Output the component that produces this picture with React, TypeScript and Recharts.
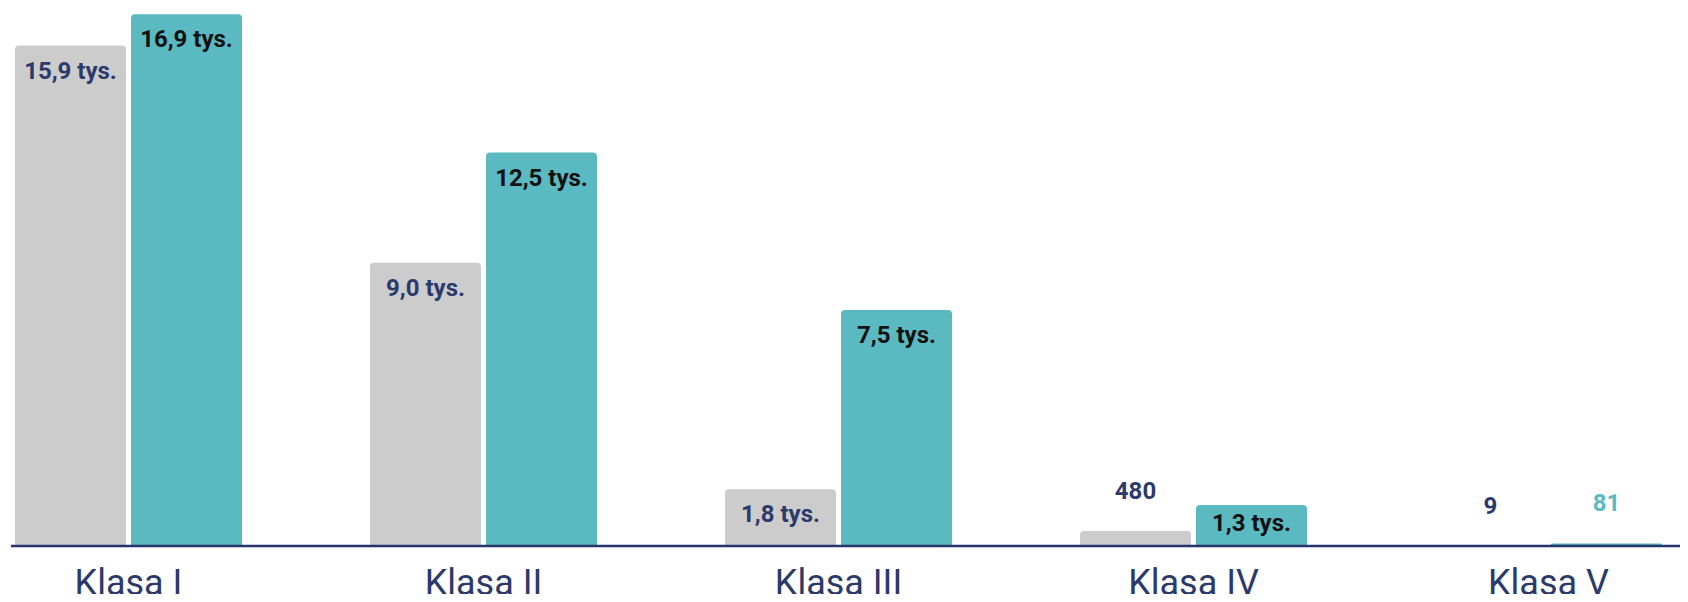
import { Bar, BarChart, LabelList, XAxis, YAxis } from "recharts";

const categories = ["Klasa I", "Klasa II", "Klasa III", "Klasa IV", "Klasa V"];
const previousValues = [15900, 9000, 1800, 480, 9];
const currentValues = [16900, 12500, 7500, 1300, 81];

const GRAY = "#cccccc";
const TEAL = "#5bbac1";
const NAVY = "#2b3a6b";

const chartData = categories.map((name, i) => ({
  name,
  previous: previousValues[i],
  current: currentValues[i],
}));

// "16,9 tys." for thousands, raw number below that
function formatValue(value: number) {
  if (value >= 1000) return (value / 1000).toFixed(1).replace(".", ",") + " tys.";
  return String(value);
}

function makeLabel(insideColor: string, outsideColor: string) {
  return (props: any) => {
    const { x, y, width, height, value } = props;
    const cx = Number(x) + Number(width) / 2;
    const h = Number(height);
    const inside = h > 30;
    const offset = h > 50 ? 16 : 9;
    const textY = inside ? Number(y) + offset + 17 : Number(y) - 32;
    return (
      <text
        x={cx}
        y={textY}
        textAnchor="middle"
        fontSize={24}
        fontWeight={700}
        fill={inside ? insideColor : outsideColor}
      >
        {formatValue(Number(value))}
      </text>
    );
  };
}

export default function App() {
  return (
    <div
      style={{
        width: 1688,
        height: 602,
        margin: -8,
        overflow: "hidden",
        background: "#ffffff",
        fontFamily: "Roboto, sans-serif",
      }}
    >
      <BarChart
        width={1688}
        height={602}
        data={chartData}
        margin={{ top: 11, right: 0, left: 11, bottom: 0 }}
        barCategoryGap={64}
        barGap={5}
      >
        <XAxis
          dataKey="name"
          padding={{ left: -60, right: -38 }}
          axisLine={{ stroke: "#26356a", strokeWidth: 2.5 }}
          tickLine={false}
          tickSize={0}
          tickMargin={23}
          height={56}
          tick={{ fill: NAVY, fontSize: 36 }}
          interval={0}
        />
        <YAxis hide domain={[0, 17000]} />
        <Bar
          dataKey="previous"
          fill={GRAY}
          radius={[4, 4, 0, 0]}
          isAnimationActive={false}
        >
          <LabelList dataKey="previous" content={makeLabel(NAVY, NAVY)} />
        </Bar>
        <Bar
          dataKey="current"
          fill={TEAL}
          radius={[4, 4, 0, 0]}
          isAnimationActive={false}
        >
          <LabelList dataKey="current" content={makeLabel("#111111", TEAL)} />
        </Bar>
      </BarChart>
    </div>
  );
}
